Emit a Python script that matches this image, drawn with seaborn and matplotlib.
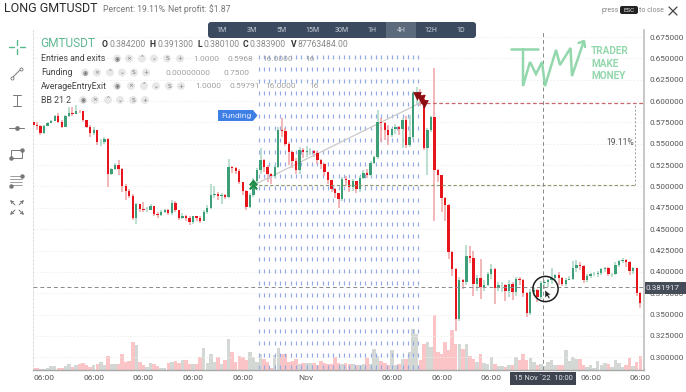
import numpy as np
import pandas as pd
import matplotlib
matplotlib.use('Agg')
import matplotlib.pyplot as plt
import seaborn as sns
from matplotlib.patches import Circle, FancyBboxPatch, Polygon, Rectangle

# 가격 데이터
first_open = 0.575
closes = [
    .572, .571, .563, .571, .574, .577, .583, .576, .570, .583,
    .586, .585, .589, .588, .578, .570, .563, .566, .552, .552,
    .556, .515, .520, .525, .520, .501, .495, .489, .463, .479,
    .474, .473, .473, .477, .468, .467, .470, .473, .469, .481,
    .472, .463, .466, .463, .458, .465, .463, .460, .470, .475,
    .490, .491, .489, .490, .488, .523, .522, .518, .505, .495,
    .476, .490, .507, .519, .531, .523, .515, .512, .523, .566,
    .565, .550, .540, .530, .519, .543, .540, .541, .542, .539,
    .531, .526, .517, .508, .497, .492, .485, .509, .508, .499,
    .507, .497, .510, .516, .513, .528, .534, .575, .574, .566,
    .560, .567, .570, .567, .578, .549, .558, .609, .610, .603,
    .545, .566, .581, .519, .513, .486, .478, .423, .403, .345,
    .390, .388, .419, .416, .386, .393, .382, .385, .398, .403,
    .381, .385, .385, .377, .386, .376, .392, .390, .375, .352,
    .376, .379, .370, .387, .388, .390, .393, .396, .393, .386,
    .391, .392, .404, .408, .407, .390, .395, .397, .398, .399,
    .403, .404, .397, .397, .408, .413, .414, .412, .401, .404,
    .375, .364]
highs = [
    .577, .576, .572, .572, .575, .578, .584, .586, .578, .584,
    .593, .593, .595, .590, .589, .578, .572, .570, .566, .556,
    .558, .557, .522, .528, .531, .522, .503, .497, .491, .481,
    .477, .482, .476, .480, .477, .470, .472, .474, .474, .484,
    .483, .472, .469, .467, .466, .466, .466, .465, .473, .478,
    .503, .500, .493, .492, .491, .532, .524, .523, .520, .505,
    .496, .492, .510, .522, .545, .532, .525, .516, .525, .570,
    .580, .568, .552, .542, .533, .546, .545, .548, .545, .543,
    .541, .532, .527, .517, .508, .498, .492, .511, .512, .508,
    .509, .507, .512, .519, .520, .530, .536, .590, .580, .575,
    .572, .569, .573, .571, .580, .582, .584, .612, .617, .614,
    .608, .568, .583, .639, .520, .514, .488, .480, .425, .405,
    .394, .392, .431, .430, .425, .396, .415, .390, .400, .409,
    .405, .388, .388, .386, .390, .388, .394, .394, .392, .376,
    .380, .381, .380, .389, .390, .392, .405, .398, .400, .394,
    .393, .395, .413, .414, .412, .408, .397, .399, .400, .401,
    .405, .406, .406, .399, .412, .414, .416, .415, .413, .406,
    .405, .376]
lows = [
    .568, .566, .560, .562, .572, .574, .577, .574, .568, .570,
    .581, .582, .585, .586, .576, .568, .558, .560, .549, .547,
    .550, .499, .514, .519, .514, .494, .484, .486, .461, .456,
    .470, .470, .470, .472, .466, .463, .465, .469, .467, .467,
    .470, .461, .462, .460, .455, .456, .459, .457, .459, .468,
    .474, .487, .484, .480, .485, .486, .516, .515, .503, .490,
    .473, .475, .488, .504, .515, .517, .505, .503, .510, .522,
    .558, .548, .525, .522, .515, .515, .533, .534, .537, .534,
    .526, .520, .512, .503, .493, .487, .475, .483, .500, .494,
    .495, .492, .494, .509, .510, .512, .526, .532, .552, .555,
    .549, .558, .562, .560, .545, .545, .546, .556, .595, .594,
    .543, .513, .564, .460, .505, .470, .460, .415, .395, .331,
    .343, .380, .385, .410, .372, .378, .368, .378, .383, .392,
    .362, .377, .376, .366, .370, .367, .372, .385, .370, .347,
    .350, .372, .365, .368, .380, .382, .386, .388, .385, .384,
    .384, .390, .390, .400, .402, .387, .388, .393, .395, .394,
    .396, .400, .395, .394, .396, .406, .410, .406, .396, .398,
    .372, .358]
volumes = [
    8, 6, 5, 5, 8, 14, 12, 8, 8, 14,
    18, 10, 15, 20, 22, 15, 10, 15, 20, 25,
    16, 42, 20, 18, 20, 50, 25, 28, 84, 75,
    25, 15, 10, 22, 20, 12, 8, 8, 22, 25,
    28, 22, 30, 30, 20, 18, 18, 40, 68, 22,
    50, 25, 40, 20, 30, 95, 55, 25, 42, 40,
    30, 55, 40, 25, 48, 35, 25, 8, 45, 68,
    48, 50, 25, 28, 35, 20, 22, 22, 22, 22,
    15, 28, 22, 20, 20, 40, 22, 20, 22, 20,
    20, 15, 15, 20, 38, 18, 65, 42, 28, 22,
    15, 62, 15, 18, 35, 35, 55, 125, 110, 30,
    80, 85, 70, 165, 55, 48, 85, 60, 120, 80,
    78, 65, 78, 42, 35, 25, 50, 22, 18, 40,
    18, 12, 12, 10, 15, 15, 40, 30, 50, 30,
    38, 25, 15, 20, 12, 25, 32, 15, 15, 15,
    60, 28, 40, 35, 35, 15, 10, 15, 8, 28,
    15, 22, 18, 10, 30, 22, 10, 15, 38, 12,
    25, 42]

# 축 라벨
price_ticks = [.300, .325, .350, .375, .400, .425, .450, .475, .500, .525, .550, .575, .600, .625, .650, .675]
time_ticks = [3, 17, 31, 45, 59, 76.8, 101, 115, 129, 143, 157, 171]
time_labels = ['06:00', '06:00', '06:00', '06:00', '06:00', 'Nov', '06:00', '06:00', '06:00', '', '06:00', '06:00']
intervals = ['1M', '3M', '5M', '15M', '30M', '1H', '4H', '12H', '1D']

# 거래 정보
entry_idx, entry_price = 61.9, 0.5013
exit_idx, exit_price = 109.0, 0.5979
cross_idx, cross_price = 143.5, 0.381917
funding_cols = np.arange(63.5, 109.0, 1.5)
funding_rows = np.arange(0.652, 0.288, -0.01397)

RED = '#e8141c'
GREEN = '#3d9f78'
LOGO = '#93d7ac'
CHEVRON = [(-1, -0.5), (0, 0.7), (1, -0.5), (0.6, -0.8), (0, -0.05), (-0.6, -0.8)]

sns.set_theme(style='white')
plt.rcParams['font.family'] = ['Roboto', 'DejaVu Sans']

W, H = 686, 392
fig = plt.figure(figsize=(W / 100, H / 100), dpi=100, facecolor='white')
ax = fig.add_axes([33.4 / W, (H - 370.3) / H, 610.1 / W, 340.3 / H])
axv = ax.twinx()
ax.set_zorder(axv.get_zorder() + 1)
ax.patch.set_visible(False)

opens = [first_open] + closes[:-1]
df = pd.DataFrame({'idx': np.arange(len(closes)), 'open': opens, 'close': closes,
                   'high': highs, 'low': lows, 'volume': volumes})
df['up'] = df['close'] >= df['open']

# 거래량
sns.barplot(data=df, x='idx', y='volume', hue='up', palette={True: '#d3d8d5', False: '#fbc4c6'},
            native_scale=True, dodge=False, width=0.98, saturation=1, legend=False, ax=axv, linewidth=0)
axv.set_ylim(0, 1021)
axv.set_yticks([])
axv.set_xlabel('')
axv.set_ylabel('')

# 펀딩 표시
fx, fy = np.meshgrid(funding_cols, funding_rows)
sns.scatterplot(x=fx.ravel(), y=fy.ravel(), marker='|', s=12, color='#93aae4', linewidth=0.85,
                ax=ax, legend=False, zorder=1)

# 캔들
wick = df['up'].map({True: '#a9d6c2', False: '#f0a3a6'})
ax.vlines(df['idx'], df['low'], df['high'], colors=wick, linewidth=1.1, zorder=2)
body = df['close'] - df['open']
ax.bar(df['idx'], body, bottom=df['open'], width=0.66,
       color=df['up'].map({True: GREEN, False: RED}), linewidth=0, zorder=3)

# 진입-청산 연결선과 기준선
sns.lineplot(x=[entry_idx, exit_idx], y=[entry_price, exit_price], color='#c9c9c9', linewidth=0.9, ax=ax, zorder=2)
ax.hlines(entry_price, entry_idx, 169.5, colors='#8f9a6c', linestyles=(0, (3, 2)), linewidth=0.8, zorder=4)
ax.hlines(exit_price, exit_idx, 172, colors='#c9656c', linestyles=(0, (3, 2)), linewidth=0.9, zorder=4)
ax.vlines(169.5, entry_price, exit_price, colors='#999999', linestyles=(0, (2, 2)), linewidth=0.7, zorder=4)
ax.hlines(cross_price, 0, 172, colors='#8a8a8a', linestyles=(0, (4, 3)), linewidth=0.7, zorder=4)
ax.vlines(cross_idx, 0.2847, 0.6833, colors='#8a8a8a', linestyles=(0, (4, 3)), linewidth=0.7, zorder=4)

sns.scatterplot(x=[entry_idx, entry_idx], y=[entry_price + .0045, entry_price - .0005], marker=CHEVRON, s=42,
                color='#1c8c45', linewidth=0, ax=ax, legend=False, zorder=6)
sns.scatterplot(x=[exit_idx - 1.0, exit_idx + 0.2, exit_idx + 1.0], y=[exit_price + .008, exit_price + .004, exit_price - .001],
                marker='v', s=40, color='#8b0d12', linewidth=0, ax=ax, legend=False, zorder=6)

ax.set_xlim(0, 171.9)
axv.set_xlim(0, 171.9)
ax.set_ylim(0.2847, 0.6833)
ax.yaxis.tick_right()
ax.set_yticks(price_ticks)
ax.set_yticklabels([f'{p:.6f}' for p in price_ticks], fontsize=5.9, color='#555555')
ax.set_xticks(time_ticks)
ax.set_xticklabels(time_labels, fontsize=6.1, color='#555555')
ax.tick_params(axis='both', length=0)
ax.tick_params(axis='y', pad=4)
ax.tick_params(axis='x', pad=3.5)
ax.grid(True, axis='y', color='#eeeeee', linewidth=0.6, linestyle=(0, (2, 2)))
ax.set_axisbelow(True)
for a in (ax, axv):
    for s in a.spines.values():
        s.set_visible(False)
ax.spines['right'].set_visible(True)
ax.spines['right'].set_color('#bdbdbd')
ax.spines['right'].set_linewidth(1.2)
ax.spines['bottom'].set_visible(True)
ax.spines['bottom'].set_color('#a8a8a8')
ax.spines['bottom'].set_linewidth(1.0)
ax.spines['left'].set_visible(True)
ax.spines['left'].set_color('#dddddd')
ax.spines['left'].set_linestyle((0, (2, 2)))
ax.spines['left'].set_linewidth(0.7)

# 화면 UI (픽셀 좌표 오버레이)
ui = fig.add_axes([0, 0, 1, 1], zorder=10)
ui.set_xlim(0, W)
ui.set_ylim(H, 0)
ui.axis('off')


def txt(x, y, s, size=7, color='#555555', ha='left', **kw):
    ui.text(x, y, s, fontsize=size, color=color, ha=ha, va='center', **kw)


def box(x, y, w, h, color, r=2):
    ui.add_patch(FancyBboxPatch((x + r, y + r), w - 2 * r, h - 2 * r, boxstyle=f'round,pad={r}',
                                facecolor=color, edgecolor='none'))


txt(4.5, 8.5, 'LONG GMTUSDT', 9.0, '#2b2b2b')
txt(103, 9.5, 'Percent: 19.11%', 6.2, '#777777')
txt(168, 9.5, 'Net profit: $1.87', 6.2, '#777777')
txt(602, 10, 'press', 5.0, '#888888')
box(620, 6, 18, 8, '#222222', 2)
txt(629, 10, 'ESC', 4.4, '#eeeeee', ha='center')
txt(639, 10, 'to close', 5.0, '#888888')
ui.plot([669, 677], [7, 15], color='#444444', lw=0.9)
ui.plot([669, 677], [15, 7], color='#444444', lw=0.9)

# 기간 버튼
box(208, 22, 268, 16, '#3c4a60', 3)
ui.add_patch(Rectangle((386, 22), 30, 16, facecolor='#5c6a7e', edgecolor='none'))
for label, x in zip(intervals, [222, 252, 282, 312, 342, 372, 401, 431, 461]):
    txt(x, 30, label, 5.0, '#c9d0da', ha='center')

# 범례
txt(40, 43, 'GMTUSDT', 8.6, '#5fb891')
for x, s, c, w in [(102, 'O', '#333333', 'bold'), (109, '0.384200', '#8a8a8a', 'normal'),
                   (150, 'H', '#333333', 'bold'), (157, '0.391300', '#8a8a8a', 'normal'),
                   (197, 'L', '#333333', 'bold'), (203, '0.380100', '#8a8a8a', 'normal'),
                   (243, 'C', '#333333', 'bold'), (250, '0.383900', '#8a8a8a', 'normal'),
                   (291, 'V', '#333333', 'bold'), (298, '87763484.00', '#8a8a8a', 'normal')]:
    txt(x, 44, s, 6.2, c, weight=w)

rows = [
    ('Entries and exits', 58.5, [117, 129, 142, 154, 167, 180], [(193, '1.0000'), (227, '0.5968'), (262, '16.0000'), (305, '16')]),
    ('Funding', 72.5, [85, 97, 110, 122, 134, 146], [(165, '0.00000000'), (224, '0.7500')]),
    ('AverageEntryExit', 86, [117, 131, 144, 156, 169, 181], [(195, '1.0000'), (229, '0.59791'), (265, '16.0000'), (309, '16')]),
    ('BB 21 2', 100, [83, 95, 108, 120, 133, 145], []),
]
pill_text = ['◉', '×', '⌃', '⌄', 'S', '+']
for name, y, pills, values in rows:
    txt(41, y, name, 6.3, '#444444')
    for px, glyph in zip(pills, pill_text):
        ui.add_patch(Circle((px, y), 4.0, facecolor='#e8e8e8', edgecolor='none'))
        txt(px, y, glyph, 4.2, '#777777', ha='center', family='DejaVu Sans')
    for vx, v in values:
        txt(vx, y, v, 6.0, '#a0a0a0')

# 펀딩 태그
ui.add_patch(Polygon([(218, 110), (253, 110), (257.5, 115.5), (253, 121), (218, 121)], closed=True,
                     facecolor='#3e7fe6', edgecolor='none'))
txt(221, 115.5, 'Funding', 6.0, '#dfe9fb')

txt(620, 142, '19.11%', 6.2, '#555555', ha='center')

# 로고
ui.plot([511, 537.5], [49, 49], color=LOGO, lw=1.8)
logo_x = [523, 523, 530, 536, 542, 545, 556, 560, 570.5, 572, 583.5]
logo_y = [49, 86, 62, 74, 62, 86, 50, 65, 48, 76, 42]
ui.plot(logo_x, logo_y, color=LOGO, lw=1.8, solid_joinstyle='miter')
ui.plot([578.5, 584, 585], [43, 41, 47], color=LOGO, lw=1.8)
for y, s in [(51, 'TRADER'), (63.5, 'MAKE'), (75.5, 'MONEY')]:
    txt(591, y, s, 7.2, LOGO, weight='bold')

# 왼쪽 도구 아이콘
TOOL = '#777777'
for xs, ys in [([17, 17], [40, 45]), ([17, 17], [49, 54]), ([9, 14], [47, 47]), ([20, 25], [47, 47])]:
    ui.plot(xs, ys, color='#56b98a', lw=1.0)
ui.plot([12, 21], [78, 69], color=TOOL, lw=0.7, marker='o', ms=2.2, mfc='white', mew=0.6)
ui.plot([17, 17], [95, 106], color=TOOL, lw=0.7)
ui.plot([13, 21], [95, 95], color=TOOL, lw=0.7)
ui.plot([13, 21], [106, 106], color=TOOL, lw=0.7)
ui.plot([9, 24], [128, 128], color=TOOL, lw=0.7)
ui.plot([16.5], [128], color=TOOL, marker='o', ms=2.4)
ui.add_patch(Rectangle((11, 150), 11, 8, facecolor='none', edgecolor=TOOL, lw=0.7))
ui.plot([11, 22], [158, 150], color=TOOL, lw=0, marker='o', ms=2.2)
for y in [176, 179, 182, 185]:
    ui.plot([10, 22], [y, y], color=TOOL, lw=0.5)
ui.plot([22, 11], [176, 186], color=TOOL, lw=0, marker='o', ms=2.2)
for x0, y0, x1, y1 in [(15, 205, 10, 200), (19, 205, 24, 200), (15, 210, 10, 215), (19, 210, 24, 215)]:
    ui.annotate('', xy=(x1, y1), xytext=(x0, y0), arrowprops=dict(arrowstyle='->', color=TOOL, lw=0.7, mutation_scale=5, shrinkA=0, shrinkB=0))

# 커서
ui.add_patch(Circle((545.5, 289), 12.6, facecolor='none', edgecolor='#1c1c1c', lw=1.1))
ui.add_patch(Polygon([(545, 290), (545, 298), (547, 296), (549, 299), (550, 298), (548.5, 295), (551, 295)],
                     closed=True, facecolor='#222222', edgecolor='white', lw=0.3))

# 크로스헤어 라벨
ui.add_patch(Rectangle((645, 282), 41, 11.5, facecolor='#454c58', edgecolor='none'))
txt(663, 287.8, '0.381917', 5.9, '#e4e6ea', ha='center')
ui.add_patch(Rectangle((510, 372), 66, 13, facecolor='#3e4551', edgecolor='none'))
txt(543, 378.5, "15 Nov `22  10:00", 5.4, '#e4e6ea', ha='center')

fig.savefig('out.png', dpi=100, facecolor='white')
